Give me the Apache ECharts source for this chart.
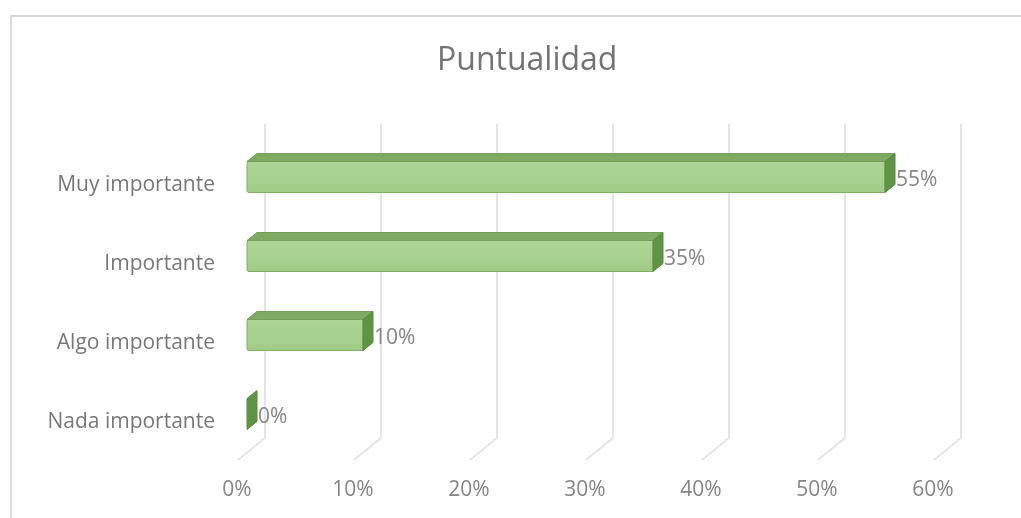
<!DOCTYPE html>
<html>
<head>
<meta charset="utf-8">
<script src="https://cdn.jsdelivr.net/npm/echarts@6/dist/echarts.min.js"></script>
<style>html,body{margin:0;padding:0;background:#fff;}#c{width:1021px;height:518px;}</style>
</head>
<body>
<div id="c"></div>
<script>
const categories = ['Muy importante', 'Importante', 'Algo importante', 'Nada importante'];
const values = [55, 35, 10, 0];
const tickValues = [0, 10, 20, 30, 40, 50, 60];
const titleText = 'Puntualidad';

const FONT = 'Open Sans';
const chart = echarts.init(document.getElementById('c'), null, {renderer: 'canvas'});

const option = {
  backgroundColor: '#ffffff',
  animation: false,
  title: {
    text: titleText,
    left: 432,
    top: 40,
    textStyle: {fontFamily: FONT, fontSize: 32, fontWeight: 'normal', color: '#747474'}
  },
  graphic: [{
    type: 'rect',
    shape: {x: 11, y: 16, width: 1040, height: 540},
    style: {fill: 'none', stroke: '#d9d9d9', lineWidth: 2},
    silent: true
  }],
  grid: {left: 247, right: 78, top: 137.5, bottom: 64.5, containLabel: false},
  xAxis: {
    type: 'value', min: 0, max: 60, interval: 10,
    axisLine: {show: false}, axisTick: {show: false}, splitLine: {show: false},
    axisLabel: {
      formatter: '{value}%', margin: 26, padding: [0, 20, 0, 0],
      fontFamily: FONT, fontSize: 21, color: '#858585'
    }
  },
  yAxis: {
    type: 'category', data: categories, inverse: true,
    axisLine: {show: false}, axisTick: {show: false}, splitLine: {show: false},
    axisLabel: {margin: 32, verticalAlign: 'top', lineHeight: 16, fontFamily: FONT, fontSize: 21, color: '#777777'}
  },
  series: [
    {
      type: 'custom',
      name: 'grid',
      clip: false,
      z: 1,
      silent: true,
      data: tickValues.map(v => [v, 0]),
      renderItem: function (params, api) {
        const x = api.coord([api.value(0), 0])[0];
        const cs = params.coordSys;
        const top = cs.y - 14;
        const backBottom = cs.y + cs.height - 15.5;
        const floorY = cs.y + cs.height + 6.5;
        return {
          type: 'polyline',
          shape: {points: [[x + 18, top], [x + 18, backBottom], [x - 9, floorY]]},
          style: {stroke: '#dcdcdc', lineWidth: 1.5, fill: null}
        };
      }
    },
    {
      type: 'custom',
      name: 'bars',
      clip: false,
      z: 5,
      data: values.map((v, i) => [v, i]),
      renderItem: function (params, api) {
        const v = api.value(0);
        const end = api.coord([v, api.value(1)]);
        const start = api.coord([0, api.value(1)]);
        const h = 31, dx = 10, dy = 8;
        const x0 = start[0], x1 = end[0];
        const y0 = end[1] - h / 2;
        const children = [];
        if (x1 - x0 > 0.5) {
          children.push({
            type: 'rect',
            shape: {x: x0, y: y0, width: x1 - x0, height: h, r: [2, 0, 0, 2]},
            style: {
              fill: new echarts.graphic.LinearGradient(0, 0, 0, 1, [
                {offset: 0, color: '#aed696'},
                {offset: 1, color: '#9fcb86'}
              ]),
              stroke: '#7fae62', lineWidth: 1
            }
          });
          children.push({
            type: 'polygon',
            shape: {points: [[x0, y0], [x1, y0], [x1 + dx, y0 - dy], [x0 + dx, y0 - dy]]},
            style: {fill: '#7eaa63', stroke: '#72a057', lineWidth: 1}
          });
        }
        children.push({
          type: 'polygon',
          shape: {points: [[x1, y0], [x1 + dx, y0 - dy], [x1 + dx, y0 + h - dy], [x1, y0 + h]]},
          style: {fill: '#5f9444', stroke: '#5a8c40', lineWidth: 1}
        });
        children.push({
          type: 'text',
          style: {
            x: x1 + dx + 1, y: end[1] + 3,
            text: v + '%',
            fontFamily: FONT, fontSize: 21, fill: '#858585',
            verticalAlign: 'middle', align: 'left'
          }
        });
        return {type: 'group', children: children};
      }
    }
  ]
};
chart.setOption(option);
</script>
</body>
</html>
